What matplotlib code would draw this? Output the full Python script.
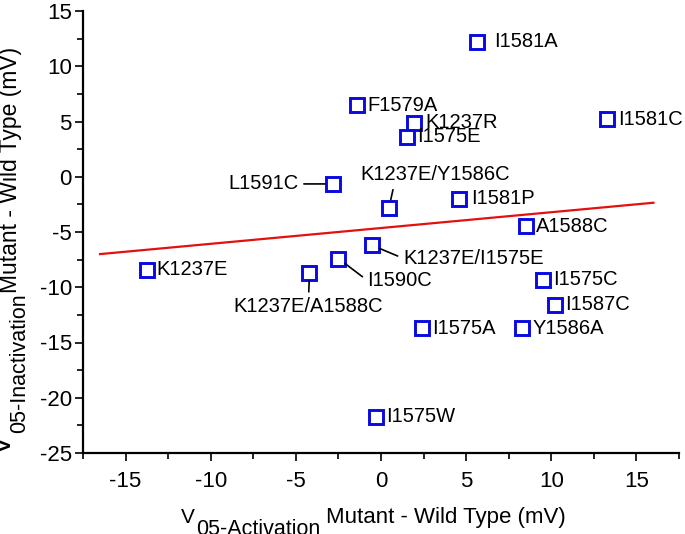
import matplotlib
matplotlib.use("Agg")
import matplotlib.pyplot as plt
from matplotlib.ticker import MultipleLocator

plt.rcParams['font.family'] = ['Liberation Sans', 'DejaVu Sans']
plt.rcParams['axes.unicode_minus'] = False

# ---- data ----
mutants = ["I1581A", "F1579A", "K1237R", "I1575E", "I1581C", "K1237E/Y1586C",
           "I1581P", "A1588C", "K1237E/I1575E", "L1591C", "K1237E", "K1237E/A1588C",
           "I1590C", "I1575C", "I1587C", "I1575A", "Y1586A", "I1575W"]
dv_activation = [5.65, -1.4, 1.94, 1.53, 13.3, 0.47,
                 4.6, 8.5, -0.53, -2.8, -13.75, -4.2,
                 -2.5, 9.5, 10.2, 2.4, 8.3, -0.3]
dv_inactivation = [12.2, 6.45, 4.9, 3.6, 5.2, -2.8,
                   -2.0, -4.5, -6.2, -0.65, -8.4, -8.7,
                   -7.4, -9.3, -11.6, -13.7, -13.7, -21.7]
fit_slope = 0.143
fit_intercept = -4.64
fit_x_range = [-16.5, 16.0]

# ---- label layout (pixel offsets) ----
default_layout = (10, 0, 'left', 'center', None)
label_layout = {
    "I1581A": (17, 0, 'left', 'center', None),
    "K1237R": (11, 0, 'left', 'center', None),
    "I1581C": (11, 0, 'left', 'center', None),
    "I1581P": (12, 0, 'left', 'center', None),
    "L1591C": (-35, 0, 'right', 'center', (1.0, 0.5)),
    "K1237E/Y1586C": (46, 33, 'center', 'center', (0.23, 0.1)),
    "K1237E/I1575E": (31, -13, 'left', 'center', (0.0, 0.5)),
    "I1590C": (29, -22, 'left', 'center', (0.0, 0.5)),
    "K1237E/A1588C": (-1, -34, 'center', 'center', (0.5, 0.9)),
}

W, H = 685, 534
fig = plt.figure(figsize=(W / 100, H / 100), dpi=100)
ax = fig.add_axes([83 / W, 1 - 453 / H, (679 - 83) / W, (453 - 11) / H])

marker_color = '#0a0ae0'
ax.plot(dv_activation, dv_inactivation, linestyle='none', marker='s',
        markersize=10, markerfacecolor='none', markeredgecolor=marker_color,
        markeredgewidth=2.1, zorder=3)

fx = fit_x_range
fy = [fit_slope * v + fit_intercept for v in fx]
ax.plot(fx, fy, color='#e31010', lw=1.6, zorder=2)

for name, xv, yv in zip(mutants, dv_activation, dv_inactivation):
    dx, dy, ha, va, rel = label_layout.get(name, default_layout)
    kw = {}
    if rel is not None:
        kw['arrowprops'] = dict(arrowstyle='-', color='black', lw=1.2,
                                shrinkA=2, shrinkB=6, relpos=rel)
    ax.annotate(name, xy=(xv, yv), xytext=(dx, dy), textcoords='offset pixels',
                ha=ha, va=va, fontsize=14.5, color='black', **kw)

ax.set_xlim(-17.5, 17.5)
ax.set_ylim(-25, 15)
ax.xaxis.set_major_locator(MultipleLocator(5))
ax.xaxis.set_minor_locator(MultipleLocator(2.5))
ax.yaxis.set_major_locator(MultipleLocator(5))
ax.yaxis.set_minor_locator(MultipleLocator(2.5))
for s in ['top', 'right']:
    ax.spines[s].set_visible(False)
for s in ['left', 'bottom']:
    ax.spines[s].set_linewidth(1.6)
ax.tick_params(which='major', length=6, width=1.2, labelsize=16)
ax.tick_params(which='minor', length=4, width=1.2)
ax.tick_params(axis='x', which='major', pad=7)
ax.tick_params(axis='y', which='major', pad=2)

# ---- axis labels built from pieces ----
def fx_(px):
    return px / W

def fy_(py):
    return 1 - py / H

fig.text(fx_(181), fy_(523), "V", fontsize=15, ha='left', va='baseline')
fig.text(fx_(196), fy_(535), "05-Activation", fontsize=15.5, ha='left', va='baseline')
fig.text(fx_(326), fy_(523), "Mutant - Wild Type (mV)", fontsize=16, ha='left', va='baseline')

fig.text(fx_(11), fy_(455), "V", fontsize=22, ha='left', va='baseline',
         rotation=90, rotation_mode='anchor')
fig.text(fx_(25), fy_(433), "05-Inactivation", fontsize=15.5, ha='left', va='baseline',
         rotation=90, rotation_mode='anchor')
fig.text(fx_(17), fy_(293), "Mutant - Wild Type (mV)", fontsize=16.5, ha='left', va='baseline',
         rotation=90, rotation_mode='anchor')

fig.savefig("out.png", dpi=100)
